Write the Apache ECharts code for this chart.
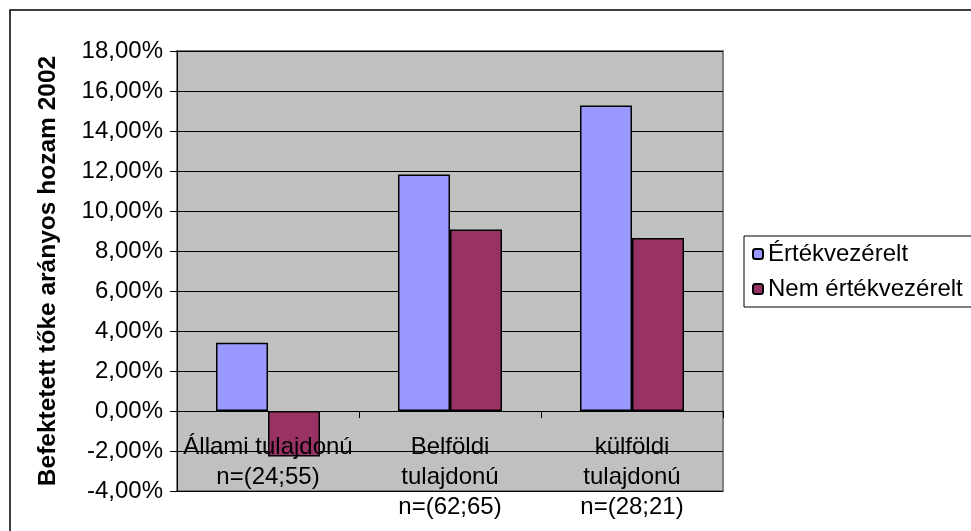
<!DOCTYPE html>
<html>
<head>
<meta charset="utf-8">
<script src="https://cdn.jsdelivr.net/npm/echarts@6/dist/echarts.min.js"></script>
<style>
  html, body { margin: 0; padding: 0; background: #fff; }
  #chart { width: 971px; height: 531px; }
</style>
</head>
<body>
<div id="chart"></div>
<script>
// Ownership categories with sample sizes (value-driven; not value-driven)
const categories = [
  'Állami tulajdonú\nn=(24;55)',
  'Belföldi\ntulajdonú\nn=(62;65)',
  'külföldi\ntulajdonú\nn=(28;21)'
];
// Return on invested capital, 2002, in percent
const valueDriven = [3.41, 11.83, 15.27];
const nonValueDriven = [-2.27, 9.08, 8.65];
const seriesNames = ['Értékvezérelt', 'Nem értékvezérelt'];
const axisTitle = 'Befektetett tőke arányos hozam 2002';

const FONT = '"Liberation Sans", Arial, sans-serif';

const chart = echarts.init(document.getElementById('chart'), null, { renderer: 'canvas' });

chart.setOption({
  backgroundColor: '#ffffff',
  animation: false,
  textStyle: { fontFamily: FONT, color: '#000' },
  graphic: [{
    type: 'rect',
    shape: { x: 10, y: 10, width: 1200, height: 900 },
    style: { fill: 'none', stroke: '#000', lineWidth: 1.5 },
    silent: true,
    z: -10
  }],
  grid: {
    left: 177, right: 248, top: 51, bottom: 40,
    containLabel: false,
    outerBoundsMode: 'none',
    show: true,
    backgroundColor: '#C0C0C0',
    borderColor: '#808080',
    borderWidth: 2
  },
  legend: {
    orient: 'vertical',
    left: 744, top: 236,
    padding: [6, 80, 6, 8],
    itemWidth: 10, itemHeight: 10,
    itemGap: 11,
    itemTextGap: 12,
    borderColor: '#000', borderWidth: 1,
    backgroundColor: '#fff',
    textStyle: { fontFamily: FONT, fontSize: 24, color: '#000' },
    data: seriesNames
  },
  xAxis: {
    type: 'category',
    data: categories,
    z: 5,
    axisLine: { onZero: true, lineStyle: { color: '#000', width: 1 } },
    axisTick: { show: true, length: 7, lineStyle: { color: '#000' } },
    // labels hang just under the zero line, inside the plot
    axisLabel: {
      fontFamily: FONT, fontSize: 24, color: '#000',
      lineHeight: 30, margin: -59, interval: 0
    },
    splitLine: { show: false }
  },
  yAxis: {
    type: 'value',
    min: -4, max: 18, interval: 2,
    name: axisTitle,
    nameLocation: 'middle',
    nameGap: 116,
    nameRotate: 90,
    nameTextStyle: { fontFamily: FONT, fontSize: 24.5, fontWeight: 'bold', color: '#000' },
    axisLine: { show: true, lineStyle: { color: '#000', width: 1 } },
    axisTick: { show: true, length: 7, lineStyle: { color: '#000' } },
    axisLabel: {
      fontFamily: FONT, fontSize: 24, color: '#000', margin: 14,
      formatter: v => v.toFixed(2).replace('.', ',') + '%'
    },
    splitLine: { show: true, lineStyle: { color: '#000', width: 1 } }
  },
  series: [
    {
      name: seriesNames[0],
      type: 'bar',
      data: valueDriven,
      barWidth: 52,
      barGap: '0%',
      itemStyle: { color: '#9999FF', borderColor: '#000', borderWidth: 1.5 }
    },
    {
      name: seriesNames[1],
      type: 'bar',
      data: nonValueDriven,
      barWidth: 52,
      barGap: '0%',
      itemStyle: { color: '#993366', borderColor: '#000', borderWidth: 1.5 }
    }
  ]
});
</script>
</body>
</html>
